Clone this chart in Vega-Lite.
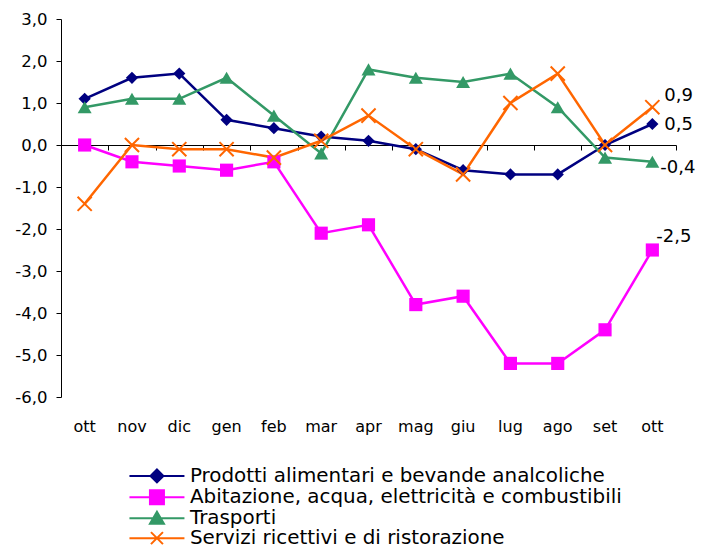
{
  "$schema": "https://vega.github.io/schema/vega-lite/v6.json",
  "width": 615,
  "height": 378,
  "autosize": "none",
  "padding": {"left": 61, "top": 19, "right": 34, "bottom": 149},
  "config": {
    "view": {"stroke": null},
    "font": "DejaVu Sans",
    "locale": {"number": {"decimal": ",", "thousands": ".", "grouping": [3], "currency": ["", " €"], "minus": "-"}}
  },
  "data": {
    "values": [
      {"m": "ott", "s": "Prodotti alimentari e bevande analcoliche", "v": 1.1},
      {"m": "nov", "s": "Prodotti alimentari e bevande analcoliche", "v": 1.6},
      {"m": "dic", "s": "Prodotti alimentari e bevande analcoliche", "v": 1.7},
      {"m": "gen", "s": "Prodotti alimentari e bevande analcoliche", "v": 0.6},
      {"m": "feb", "s": "Prodotti alimentari e bevande analcoliche", "v": 0.4},
      {"m": "mar", "s": "Prodotti alimentari e bevande analcoliche", "v": 0.2},
      {"m": "apr", "s": "Prodotti alimentari e bevande analcoliche", "v": 0.1},
      {"m": "mag", "s": "Prodotti alimentari e bevande analcoliche", "v": -0.1},
      {"m": "giu", "s": "Prodotti alimentari e bevande analcoliche", "v": -0.6},
      {"m": "lug", "s": "Prodotti alimentari e bevande analcoliche", "v": -0.7},
      {"m": "ago", "s": "Prodotti alimentari e bevande analcoliche", "v": -0.7},
      {"m": "set", "s": "Prodotti alimentari e bevande analcoliche", "v": 0.0},
      {"m": "ott2", "s": "Prodotti alimentari e bevande analcoliche", "v": 0.5},
      {"m": "ott", "s": "Abitazione, acqua, elettricità e combustibili", "v": 0.0},
      {"m": "nov", "s": "Abitazione, acqua, elettricità e combustibili", "v": -0.4},
      {"m": "dic", "s": "Abitazione, acqua, elettricità e combustibili", "v": -0.5},
      {"m": "gen", "s": "Abitazione, acqua, elettricità e combustibili", "v": -0.6},
      {"m": "feb", "s": "Abitazione, acqua, elettricità e combustibili", "v": -0.4},
      {"m": "mar", "s": "Abitazione, acqua, elettricità e combustibili", "v": -2.1},
      {"m": "apr", "s": "Abitazione, acqua, elettricità e combustibili", "v": -1.9},
      {"m": "mag", "s": "Abitazione, acqua, elettricità e combustibili", "v": -3.8},
      {"m": "giu", "s": "Abitazione, acqua, elettricità e combustibili", "v": -3.6},
      {"m": "lug", "s": "Abitazione, acqua, elettricità e combustibili", "v": -5.2},
      {"m": "ago", "s": "Abitazione, acqua, elettricità e combustibili", "v": -5.2},
      {"m": "set", "s": "Abitazione, acqua, elettricità e combustibili", "v": -4.4},
      {"m": "ott2", "s": "Abitazione, acqua, elettricità e combustibili", "v": -2.5},
      {"m": "ott", "s": "Trasporti", "v": 0.9},
      {"m": "nov", "s": "Trasporti", "v": 1.1},
      {"m": "dic", "s": "Trasporti", "v": 1.1},
      {"m": "gen", "s": "Trasporti", "v": 1.6},
      {"m": "feb", "s": "Trasporti", "v": 0.7},
      {"m": "mar", "s": "Trasporti", "v": -0.2},
      {"m": "apr", "s": "Trasporti", "v": 1.8},
      {"m": "mag", "s": "Trasporti", "v": 1.6},
      {"m": "giu", "s": "Trasporti", "v": 1.5},
      {"m": "lug", "s": "Trasporti", "v": 1.7},
      {"m": "ago", "s": "Trasporti", "v": 0.9},
      {"m": "set", "s": "Trasporti", "v": -0.3},
      {"m": "ott2", "s": "Trasporti", "v": -0.4},
      {"m": "ott", "s": "Servizi ricettivi e di ristorazione", "v": -1.4},
      {"m": "nov", "s": "Servizi ricettivi e di ristorazione", "v": 0.0},
      {"m": "dic", "s": "Servizi ricettivi e di ristorazione", "v": -0.1},
      {"m": "gen", "s": "Servizi ricettivi e di ristorazione", "v": -0.1},
      {"m": "feb", "s": "Servizi ricettivi e di ristorazione", "v": -0.3},
      {"m": "mar", "s": "Servizi ricettivi e di ristorazione", "v": 0.1},
      {"m": "apr", "s": "Servizi ricettivi e di ristorazione", "v": 0.7},
      {"m": "mag", "s": "Servizi ricettivi e di ristorazione", "v": -0.1},
      {"m": "giu", "s": "Servizi ricettivi e di ristorazione", "v": -0.7},
      {"m": "lug", "s": "Servizi ricettivi e di ristorazione", "v": 1.0},
      {"m": "ago", "s": "Servizi ricettivi e di ristorazione", "v": 1.7},
      {"m": "set", "s": "Servizi ricettivi e di ristorazione", "v": 0.0},
      {"m": "ott2", "s": "Servizi ricettivi e di ristorazione", "v": 0.9}
    ]
  },
  "layer": [
    {
      "mark": {"type": "line", "strokeWidth": 2.5},
      "encoding": {
        "x": {
          "field": "m", "type": "ordinal",
          "sort": ["ott", "nov", "dic", "gen", "feb", "mar", "apr", "mag", "giu", "lug", "ago", "set", "ott2"],
          "scale": {"type": "band", "paddingInner": 0, "paddingOuter": 0},
          "axis": {"title": null, "orient": "bottom", "domain": false, "ticks": false, "tickSize": 0, "labelPadding": 21, "labelAngle": 0, "labelFontSize": 16, "labelColor": "#000", "labelExpr": "datum.label == 'ott2' ? 'ott' : datum.label"}
        },
        "y": {
          "field": "v", "type": "quantitative",
          "scale": {"domain": [-6, 3], "nice": false, "zero": false},
          "axis": {"title": null, "values": [-6, -5, -4, -3, -2, -1, 0, 1, 2, 3], "format": ".1f", "grid": false, "tickSize": 5, "tickColor": "#000", "domainColor": "#000", "labelFontSize": 16.5, "labelColor": "#000", "labelPadding": 9}
        },
        "color": {
          "field": "s", "type": "nominal",
          "scale": {
            "domain": ["Prodotti alimentari e bevande analcoliche", "Abitazione, acqua, elettricità e combustibili", "Trasporti", "Servizi ricettivi e di ristorazione"],
            "range": ["#000080", "#FF00FF", "#339966", "#FF6600"]
          },
          "legend": {
            "title": null, "orient": "none", "legendX": 86, "legendY": 447,
            "symbolSize": 100, "labelFontSize": 19.9, "labelOffset": 23, "rowPadding": -1.8,
            "labelColor": "#000", "padding": 0, "labelLimit": 700,
            "encode": {
              "symbols": {
                "update": {
                  "shape": {"signal": "['M-5.5,0H5.5M0,-1.3L1.3,0L0,1.3L-1.3,0Z','M-5.5,0H5.5M-1.4,-1.4H1.4V1.4H-1.4Z','M-5.5,0H5.5M0,-1.3L1.4,1.1H-1.4Z','M-5.5,0H5.5M-1.2,-1.2L1.2,1.2M-1.2,1.2L1.2,-1.2'][datum.index]"},
                  "fill": {"scale": "color", "field": "value"},
                  "stroke": {"scale": "color", "field": "value"},
                  "strokeWidth": {"value": 2},
                  "opacity": {"value": 1}
                }
              }
            }
          }
        }
      }
    },
    {
      "transform": [{"filter": "datum.s != 'Servizi ricettivi e di ristorazione'"}],
      "mark": {"type": "point", "filled": true, "opacity": 1},
      "encoding": {
        "x": {
          "field": "m", "type": "ordinal",
          "sort": ["ott", "nov", "dic", "gen", "feb", "mar", "apr", "mag", "giu", "lug", "ago", "set", "ott2"],
          "axis": {"title": null, "orient": "bottom", "offset": -252, "labels": false, "domain": true, "domainColor": "#000", "ticks": true, "tickColor": "#000", "tickSize": 5, "tickBand": "extent"}
        },
        "y": {"field": "v", "type": "quantitative"},
        "color": {"field": "s", "type": "nominal"},
        "shape": {
          "field": "s", "type": "nominal",
          "scale": {"domain": ["Prodotti alimentari e bevande analcoliche", "Abitazione, acqua, elettricità e combustibili", "Trasporti"], "range": ["diamond", "square", "triangle-up"]},
          "legend": null
        },
        "size": {
          "field": "s", "type": "ordinal",
          "scale": {"domain": ["Prodotti alimentari e bevande analcoliche", "Abitazione, acqua, elettricità e combustibili", "Trasporti"], "range": [150, 196, 180]},
          "legend": null
        }
      }
    },
    {
      "transform": [{"filter": "datum.s == 'Servizi ricettivi e di ristorazione'"}],
      "mark": {"type": "point", "shape": "M-1,-1L1,1M-1,1L1,-1", "filled": false, "strokeWidth": 2, "size": 200, "opacity": 1},
      "encoding": {
        "x": {"field": "m", "type": "ordinal", "sort": ["ott", "nov", "dic", "gen", "feb", "mar", "apr", "mag", "giu", "lug", "ago", "set", "ott2"], "axis": null},
        "y": {"field": "v", "type": "quantitative"},
        "color": {"field": "s", "type": "nominal"}
      }
    },
    {
      "transform": [{"filter": "datum.m == 'ott2' && datum.s == 'Servizi ricettivi e di ristorazione'"}],
      "mark": {"type": "text", "align": "left", "baseline": "middle", "fontSize": 18, "dx": 12, "dy": -11, "color": "#000"},
      "encoding": {
        "x": {"field": "m", "type": "ordinal", "sort": ["ott", "nov", "dic", "gen", "feb", "mar", "apr", "mag", "giu", "lug", "ago", "set", "ott2"], "axis": null},
        "y": {"field": "v", "type": "quantitative"},
        "text": {"field": "v", "type": "quantitative", "format": ".1f"}
      }
    },
    {
      "transform": [{"filter": "datum.m == 'ott2' && datum.s == 'Prodotti alimentari e bevande analcoliche'"}],
      "mark": {"type": "text", "align": "left", "baseline": "middle", "fontSize": 18, "dx": 12, "dy": 1, "color": "#000"},
      "encoding": {
        "x": {"field": "m", "type": "ordinal", "sort": ["ott", "nov", "dic", "gen", "feb", "mar", "apr", "mag", "giu", "lug", "ago", "set", "ott2"], "axis": null},
        "y": {"field": "v", "type": "quantitative"},
        "text": {"field": "v", "type": "quantitative", "format": ".1f"}
      }
    },
    {
      "transform": [{"filter": "datum.m == 'ott2' && datum.s == 'Trasporti'"}],
      "mark": {"type": "text", "align": "left", "baseline": "middle", "fontSize": 18, "dx": 8, "dy": 6, "color": "#000"},
      "encoding": {
        "x": {"field": "m", "type": "ordinal", "sort": ["ott", "nov", "dic", "gen", "feb", "mar", "apr", "mag", "giu", "lug", "ago", "set", "ott2"], "axis": null},
        "y": {"field": "v", "type": "quantitative"},
        "text": {"field": "v", "type": "quantitative", "format": ".1f"}
      }
    },
    {
      "transform": [{"filter": "datum.m == 'ott2' && datum.s == 'Abitazione, acqua, elettricità e combustibili'"}],
      "mark": {"type": "text", "align": "left", "baseline": "middle", "fontSize": 18, "dx": 4, "dy": -13, "color": "#000"},
      "encoding": {
        "x": {"field": "m", "type": "ordinal", "sort": ["ott", "nov", "dic", "gen", "feb", "mar", "apr", "mag", "giu", "lug", "ago", "set", "ott2"], "axis": null},
        "y": {"field": "v", "type": "quantitative"},
        "text": {"field": "v", "type": "quantitative", "format": ".1f"}
      }
    }
  ],
  "resolve": {"axis": {"x": "independent"}}
}
